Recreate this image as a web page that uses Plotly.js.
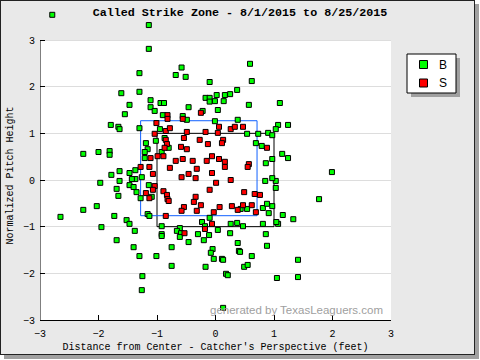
<!DOCTYPE html>
<html>
<head>
<meta charset="utf-8">
<script src="https://cdn.plot.ly/plotly-3.0.1.min.js"></script>
<style>
  html, body { margin: 0; padding: 0; background: #ffffff; }
  #frame { position: absolute; left: 0; top: 0; width: 473px; height: 353px;
           border: 1px solid #222; background: #e9e9e9; box-shadow: 4px 4px 0 #a0a0a0; }
  #chart { position: absolute; left: 0; top: 0; width: 480px; height: 360px; }
</style>
</head>
<body>
<div id="frame"></div>
<div id="chart"></div>
<script>
// Balls (B)
const ballX = [-2.79,-1.14,-1.14,-1.30,-1.61,-1.30,-1.47,-1.11,-1.11,-0.94,-0.88,-0.58,-0.68,-0.51,0.59,-0.10,0.62,0.37,0.25,0.16,
  0.02,-0.17,-0.10,-0.10,-0.01,0.14,-0.46,0.57,1.10,-0.22,0.04,-1.04,-1.55,-1.79,-1.66,-1.64,-1.30,-0.95,-1.02,-1.19,
  -1.16,-1.21,-1.21,-2.26,-2.00,-1.81,-1.81,-1.37,-1.64,-1.78,-1.47,-1.26,-1.37,-1.43,-1.64,-1.97,-1.47,-1.40,-1.14,-1.69,
  -1.35,-1.66,-1.09,-1.28,-2.03,-2.26,-2.65,-1.73,-1.52,-1.47,-1.38,-1.95,-1.69,-1.40,-1.30,-1.01,-1.25,-1.26,-1.16,-1.13,
  1.07,1.24,1.03,1.14,1.24,1.99,1.03,1.03,1.77,1.15,1.33,1.07,1.04,1.41,1.41,1.05,0.43,0.54,0.81,0.91,
  0.97,-0.10,-0.23,-0.18,0.26,0.37,0.47,0.81,-0.92,-0.61,-0.66,-0.59,-0.92,-0.92,-0.61,-0.30,-0.11,0.04,0.25,0.86,
  -0.20,-0.46,0.38,-0.75,-0.05,-0.08,0.40,0.42,0.88,-0.03,0.11,0.13,0.62,-0.75,-0.17,0.49,0.55,0.18,0.21,0.13,
  -0.90,-0.56,-0.49,-0.01,0.38,0.54,0.73,0.90,0.97,-0.87,0.69,0.79,-0.80,-0.92,0.97,0.86,0.97,0.85,0.88];
const ballY = [3.54,3.32,2.81,2.29,1.86,1.89,1.61,1.71,1.56,1.65,1.65,2.41,2.25,2.21,2.49,2.10,2.12,1.93,1.84,1.82,
  1.82,1.76,1.76,1.68,1.69,1.69,1.56,1.61,1.65,1.48,1.50,1.48,1.41,1.18,1.14,1.09,1.11,1.09,0.84,0.79,
  0.66,0.60,0.47,0.56,0.60,0.62,0.54,0.21,0.19,0.11,0.15,0.06,0.02,0.02,-0.02,-0.06,-0.11,-0.15,-0.11,-0.19,
  -0.26,-0.34,-0.36,-0.39,-0.56,-0.64,-0.79,-0.77,-0.86,-0.94,-1.09,-1.01,-1.29,-1.44,-1.63,-1.63,-2.06,-2.36,-0.73,-0.77,
  1.18,1.18,1.09,0.56,0.47,0.17,-0.02,-0.17,-0.41,-0.75,-0.84,-0.94,-0.90,-1.71,-2.08,-2.10,-0.62,-0.62,-0.60,-0.71,
  -0.56,-0.81,-0.90,-0.99,-0.94,-0.92,-0.99,-0.94,-0.99,-1.03,-1.09,-1.14,-1.16,-1.20,-1.22,-1.16,-1.18,-1.07,-1.14,-1.16,
  -1.29,-1.33,-1.35,-1.44,-1.48,-1.56,-1.52,-1.54,-1.41,-1.69,-1.69,-1.71,-1.63,-1.84,-1.86,-1.86,-1.82,-2.01,-2.04,-2.74,
  1.39,1.37,1.29,1.26,1.29,0.99,0.99,1.01,0.96,0.90,0.79,0.73,0.69,0.60,0.45,0.36,0.04,-0.02,-0.51];

// Called strikes (S)
const strikeX = [-1.01,-1.04,-1.11,-0.99,-1.28,-1.13,-1.07,-1.04,-1.07,-1.19,-1.13,-0.54,-0.58,-0.32,-0.25,-0.03,0.07,0.28,0.38,0.47,
  0.62,0.69,-0.85,-0.06,-0.18,-0.53,-0.25,-0.82,-0.82,-0.56,-0.85,-0.78,-0.49,-0.17,0.06,0.04,0.26,0.33,0.47,-0.85,
  -0.54,-0.27,0.13,0.11,-0.13,0.88,-0.83,-0.59,-0.49,-0.87,-0.89,-0.06,0.06,-0.56,-0.39,-0.15,-0.68,0.16,0.16,0.57,
  0.55,-0.78,-0.32,-0.46,-0.06,-0.58,-0.34,0.26,0.01,-0.10,-0.89,-0.83,-0.82,-0.80,-0.34,-0.37,0.49,0.67,0.76];
const strikeY = [1.22,0.99,0.47,0.51,0.28,0.28,0.13,-0.13,-0.21,-0.28,-0.39,-0.58,-0.66,-0.66,-0.54,-0.69,-0.58,-0.56,-0.64,-0.54,
  -0.54,-0.69,-0.77,-0.94,-1.05,-1.14,1.44,1.39,1.31,1.31,1.05,1.11,1.03,1.03,1.14,1.01,1.09,1.14,1.14,0.86,
  0.90,0.86,0.86,0.79,0.77,0.69,0.77,0.71,0.66,0.69,0.51,0.51,0.45,0.45,0.41,0.41,0.41,0.39,0.28,0.34,
  0.28,0.26,0.24,0.13,0.15,0.06,0.04,0.00,-0.06,-0.21,-0.24,-0.32,-0.41,-0.45,-0.36,-0.47,-0.26,-0.30,-0.32];

const seriesNames = ['B', 'S'];
const seriesColors = ['#00ff00', '#ff0000'];
const tickVals = [-3, -2, -1, 0, 1, 2, 3];
const zoneRule = [-1, 1];              // rulebook box (black)
const zoneX = [-1.28, 0.71];           // called zone (blue)
const zoneY = [-0.765, 1.27];

const mono = 'Liberation Mono, DejaVu Sans Mono, monospace';
const sans = 'Liberation Sans, Arial, sans-serif';

// plot area geometry (pixels) used to place the legend box
const L = 40, R = 89, T = 0, B = 40, W = 480 - L - R, H = 360 - T - B;
const px = v => (v - L) / W;
const py = v => (360 - B - v) / H;

const markerBase = { symbol: 'square', size: 5, line: { color: '#000', width: 1 } };

const traces = [
  { x: ballX, y: ballY, name: seriesNames[0], type: 'scatter', mode: 'markers', cliponaxis: false, showlegend: false,
    marker: Object.assign({}, markerBase, { color: seriesColors[0] }) },
  { x: strikeX, y: strikeY, name: seriesNames[1], type: 'scatter', mode: 'markers', cliponaxis: false, showlegend: false,
    marker: Object.assign({}, markerBase, { color: seriesColors[1] }) }
];

const shapes = [
  // white plotting field (range -3..3 on both axes)
  { type: 'rect', xref: 'x', yref: 'y', x0: -3, x1: 3, y0: -3, y1: 3, fillcolor: '#ffffff', line: { width: 0 }, layer: 'below' },
  { type: 'rect', xref: 'x', yref: 'y', x0: zoneRule[0], x1: zoneRule[1], y0: zoneRule[0], y1: zoneRule[1],
    line: { color: '#000', width: 1 }, layer: 'between' },
  { type: 'rect', xref: 'x', yref: 'y', x0: zoneX[0], x1: zoneX[1], y0: zoneY[0], y1: zoneY[1],
    line: { color: '#1060ff', width: 1 }, layer: 'between' },
  // left axis line (only up to 3)
  { type: 'line', xref: 'x', yref: 'y', x0: -3, x1: -3, y0: -3, y1: 3, line: { color: '#000', width: 1 }, layer: 'above' },
  // legend box: shadow, box, swatches
  { type: 'rect', xref: 'paper', yref: 'paper', x0: px(411), x1: px(460), y0: py(58), y1: py(97),
    fillcolor: '#a0a0a0', line: { width: 0 }, layer: 'above' },
  { type: 'rect', xref: 'paper', yref: 'paper', x0: px(407), x1: px(456), y0: py(54), y1: py(93),
    fillcolor: '#ffffff', line: { color: '#000', width: 1 }, layer: 'above' },
  { type: 'rect', xref: 'paper', yref: 'paper', x0: px(419.5), x1: px(427.5), y0: py(60.5), y1: py(68.5),
    fillcolor: seriesColors[0], line: { color: '#000', width: 1 }, layer: 'above' },
  { type: 'rect', xref: 'paper', yref: 'paper', x0: px(419.5), x1: px(427.5), y0: py(79), y1: py(87),
    fillcolor: seriesColors[1], line: { color: '#000', width: 1 }, layer: 'above' }
];

const annotations = [
  { text: seriesNames[0], xref: 'paper', yref: 'paper', x: px(443.5), y: py(64.5), xanchor: 'center', yanchor: 'middle',
    showarrow: false, font: { family: sans, size: 12, color: '#000' } },
  { text: seriesNames[1], xref: 'paper', yref: 'paper', x: px(443.5), y: py(83), xanchor: 'center', yanchor: 'middle',
    showarrow: false, font: { family: sans, size: 12, color: '#000' } },
  { text: 'Normalized Pitch Height', xref: 'paper', yref: 'paper', x: px(9.5), y: py(176), textangle: -90,
    xanchor: 'center', yanchor: 'middle', showarrow: false, font: { family: mono, size: 10, color: '#000' } },
  { text: 'generated by TexasLeaguers.com', xref: 'paper', yref: 'paper', x: px(385), y: py(309.5),
    xanchor: 'right', yanchor: 'middle', showarrow: false,
    font: { family: sans, size: 11.5, color: '#a0a0a0' } }
];

const layout = {
  width: 480, height: 360,
  margin: { l: L, r: R, t: T, b: B },
  paper_bgcolor: 'rgba(0,0,0,0)',
  plot_bgcolor: 'rgba(0,0,0,0)',
  font: { family: mono, size: 10, color: '#000' },
  title: { text: 'Called Strike Zone - 8/1/2015 to 8/25/2015',
           font: { family: mono, size: 11.7, color: '#000', weight: 'bold' },
           xref: 'container', x: 0.5, xanchor: 'center', yref: 'container', y: 0.966, yanchor: 'middle' },
  xaxis: { range: [-3, 3], tickvals: tickVals, ticks: 'inside', ticklen: 5, tickcolor: '#000',
           showgrid: false, zeroline: false, showline: true, linecolor: '#000', linewidth: 1,
           ticklabelstandoff: 4, tickfont: { family: mono, size: 10 },
           title: { text: "Distance from Center - Catcher's Perspective (feet)", font: { family: mono, size: 10 }, standoff: 3 } },
  yaxis: { range: [-3, 3 + 40 / 46.67], tickvals: tickVals, ticks: 'inside', ticklen: 5, tickcolor: '#000',
           showgrid: true, gridcolor: '#dddddd', zeroline: false, showline: false,
           ticklabelstandoff: 4, tickfont: { family: mono, size: 10 } },
  showlegend: false,
  shapes: shapes,
  annotations: annotations
};

Plotly.newPlot('chart', traces, layout, { displayModeBar: false, staticPlot: true });
</script>
</body>
</html>
